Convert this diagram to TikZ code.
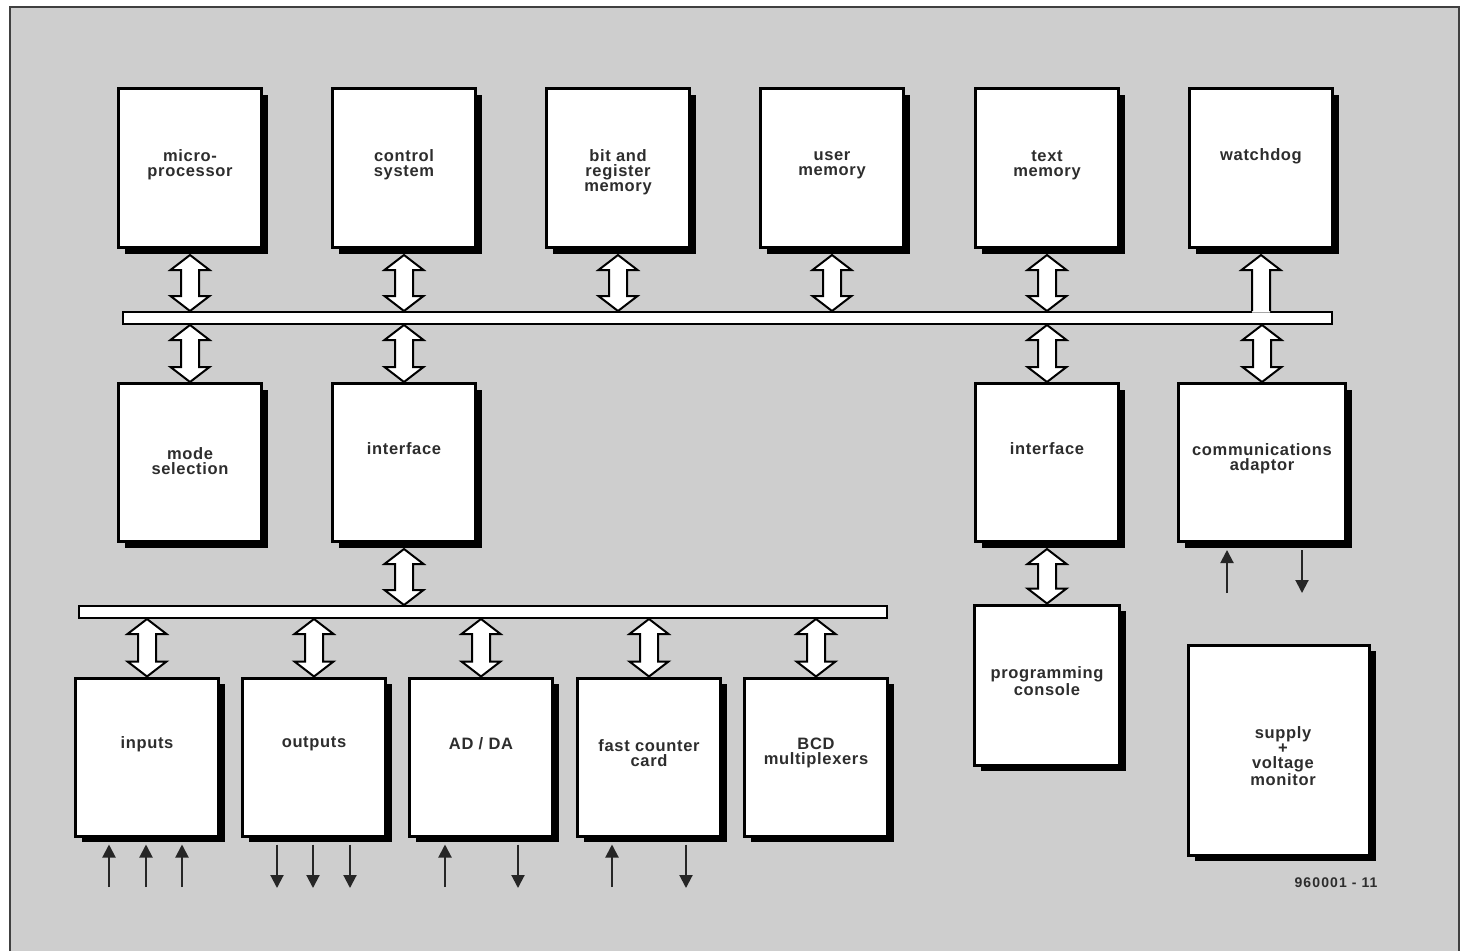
\documentclass[tikz,border=0pt]{standalone}
\usepackage{fontspec}
\setmainfont{Liberation Sans}
\newfontfamily\lblfont[LetterSpace=4]{Liberation Sans}
\newfontfamily\codefont[LetterSpace=8]{Liberation Sans}
\usetikzlibrary{calc,arrows.meta,shadows}
\definecolor{bg}{RGB}{206,206,206}
\definecolor{txt}{RGB}{45,45,45}
\tikzset{
 blk/.style={draw=black, fill=white, line width=3pt, inner sep=0pt,
   general shadow={fill=black, shadow xshift=6pt, shadow yshift=-6pt}},
 bus/.style={draw=black, fill=white, line width=2pt, inner sep=0pt},
 lbl/.style={font=\lblfont\bfseries\fontsize{16.5}{15.2}\selectfont, text=txt, align=center, inner sep=0pt},
 fat/.style={draw=black, fill=white, line width=2pt, line join=miter},
 sig/.style={draw=black!85, line width=2pt, -{Triangle[width=13pt,length=13pt]}},
}
\newcommand\blkbox[5]{\node[blk, minimum width=#4pt, minimum height=#5pt] (#1) at (#2,#3) {};}
% vertical double arrow, #1 = top point, #2 = bottom point (same x)
\newcommand\dblarrow[2]{%
 \filldraw[fat] let \p1=(#1), \p2=(#2) in
 (\x1,\y1) -- (\x1+19.5pt,\y1-15pt) -- (\x1+9pt,\y1-15pt) -- (\x1+9pt,\y2+15pt)
 -- (\x1+19.5pt,\y2+15pt) -- (\x1,\y2) -- (\x1-19.5pt,\y2+15pt) -- (\x1-9pt,\y2+15pt)
 -- (\x1-9pt,\y1-15pt) -- (\x1-19.5pt,\y1-15pt) -- cycle;}
\begin{document}
\begin{tikzpicture}[x=1pt,y=-1pt]
\useasboundingbox (0,0) rectangle (1467,951);
% panel
\fill[bg] (10,7) rectangle (1459,951);
\draw[black!75, line width=1.5pt] (10,951) -- (10,7) -- (1459,7) -- (1459,951);

% buses
\node[bus, minimum width=1209pt, minimum height=12pt] (bus1) at (727.5,318) {};
\node[bus, minimum width=808pt, minimum height=12pt] (bus2) at (483,612) {};

% top row
\blkbox{mp}{190}{168}{143}{159}
\blkbox{cs}{404}{168}{143}{159}
\blkbox{br}{618}{168}{143}{159}
\blkbox{um}{832}{168}{143}{159}
\blkbox{tm}{1047}{168}{143}{159}
\blkbox{wd}{1261}{168}{143}{159}
% middle row
\blkbox{ms}{190}{462.5}{143}{158}
\blkbox{if}{404}{462.5}{143}{158}
\blkbox{ifb}{1047}{462.5}{143}{158}
\blkbox{ca}{1262}{462.5}{167}{158}
% bottom row
\blkbox{inp}{147}{757}{143}{158}
\blkbox{out}{314}{757}{143}{158}
\blkbox{ad}{481}{757}{143}{158}
\blkbox{fc}{649}{757}{143}{158}
\blkbox{bcd}{816}{757}{143}{158}
\blkbox{pc}{1047}{685}{145}{160}
\blkbox{sv}{1279}{750}{181}{210}

% double arrows: box bottom (shadow edge) to bus 1
\dblarrow{$(mp.south)+(0,6)$}{mp.south |- bus1.north}
\dblarrow{$(cs.south)+(0,6)$}{cs.south |- bus1.north}
\dblarrow{$(br.south)+(0,6)$}{br.south |- bus1.north}
\dblarrow{$(um.south)+(0,6)$}{um.south |- bus1.north}
\dblarrow{$(tm.south)+(0,6)$}{tm.south |- bus1.north}
% bus 1 to middle row
\dblarrow{ms.north |- bus1.south}{ms.north}
\dblarrow{if.north |- bus1.south}{if.north}
\dblarrow{ifb.north |- bus1.south}{ifb.north}
\dblarrow{ca.north |- bus1.south}{ca.north}
% interface to bus 2
\dblarrow{$(if.south)+(0,6)$}{if.south |- bus2.north}
% bus 2 to bottom row
\dblarrow{inp.north |- bus2.south}{inp.north}
\dblarrow{out.north |- bus2.south}{out.north}
\dblarrow{ad.north |- bus2.south}{ad.north}
\dblarrow{fc.north |- bus2.south}{fc.north}
\dblarrow{bcd.north |- bus2.south}{bcd.north}
% interface to programming console
\dblarrow{$(ifb.south)+(0,6)$}{pc.north}

% watchdog arrow merging with bus 1
\fill[white] let \p1=($(wd.south)+(0,6)$), \p2=(wd.south |- bus1.north) in
  (\x1,\y1) -- (\x1+19.5pt,\y1-15pt) -- (\x1+9pt,\y1-15pt) -- (\x1+9pt,\y2-1.5pt)
  -- (\x1-9pt,\y2-1.5pt) -- (\x1-9pt,\y1-15pt) -- (\x1-19.5pt,\y1-15pt) -- cycle;
\draw[fat, fill=none] let \p1=($(wd.south)+(0,6)$), \p2=(wd.south |- bus1.north) in
  (\x1-9pt,\y2) -- (\x1-9pt,\y1-15pt) -- (\x1-19.5pt,\y1-15pt) -- (\x1,\y1)
  -- (\x1+19.5pt,\y1-15pt) -- (\x1+9pt,\y1-15pt) -- (\x1+9pt,\y2);

% labels
\node[lbl] at (190,165) {micro-\\processor};
\node[lbl] at (404,165) {control\\system};
\node[lbl] at (618,172.5) {bit and\\register\\memory};
\node[lbl] at (832,165) {user\\memory};
\node[lbl] at (1047,165) {text\\memory};
\node[lbl] at (1261,156) {watchdog};
\node[lbl] at (190,461) {mode\\selection};
\node[lbl] at (404,449) {interface};
\node[lbl] at (1047,449) {interface};
\node[lbl] at (1262,459) {communications\\adaptor};
\node[lbl] at (147,744) {inputs};
\node[lbl] at (314,744) {outputs};
\node[lbl] at (481,744) {AD / DA};
\node[lbl] at (649,753) {fast counter\\card};
\node[lbl] at (816,753) {BCD\\multiplexers};
\node[lbl] at (1047,681) {programming\\console};
\node[lbl] at (1283,756) {supply\\+\\voltage\\monitor};
\node[font=\codefont\bfseries\fontsize{14}{16}\selectfont, text=txt, inner sep=0pt] (code) at (1336,883) {960001 - 11};

% signal arrows
\coordinate (i1) at (109,887);
\coordinate (i2) at (146,887);
\coordinate (i3) at (182,887);
\coordinate (o1) at (277,888);
\coordinate (o2) at (313,888);
\coordinate (o3) at (350,888);
\coordinate (a1) at (445,887);
\coordinate (a2) at (518,888);
\coordinate (f1) at (612,887);
\coordinate (f2) at (686,888);
\coordinate (k1) at (1227,593);
\coordinate (k2) at (1302,593);
\draw[sig] (i1) -- ($(i1 |- inp.south)+(0,7)$);
\draw[sig] (i2) -- ($(i2 |- inp.south)+(0,7)$);
\draw[sig] (i3) -- ($(i3 |- inp.south)+(0,7)$);
\draw[sig] ($(o1 |- out.south)+(0,7)$) -- (o1);
\draw[sig] ($(o2 |- out.south)+(0,7)$) -- (o2);
\draw[sig] ($(o3 |- out.south)+(0,7)$) -- (o3);
\draw[sig] (a1) -- ($(a1 |- ad.south)+(0,7)$);
\draw[sig] ($(a2 |- ad.south)+(0,7)$) -- (a2);
\draw[sig] (f1) -- ($(f1 |- fc.south)+(0,7)$);
\draw[sig] ($(f2 |- fc.south)+(0,7)$) -- (f2);
\draw[sig] (k1) -- ($(k1 |- ca.south)+(0,7)$);
\draw[sig] ($(k2 |- ca.south)+(0,7)$) -- (k2);
\end{tikzpicture}
\end{document}
